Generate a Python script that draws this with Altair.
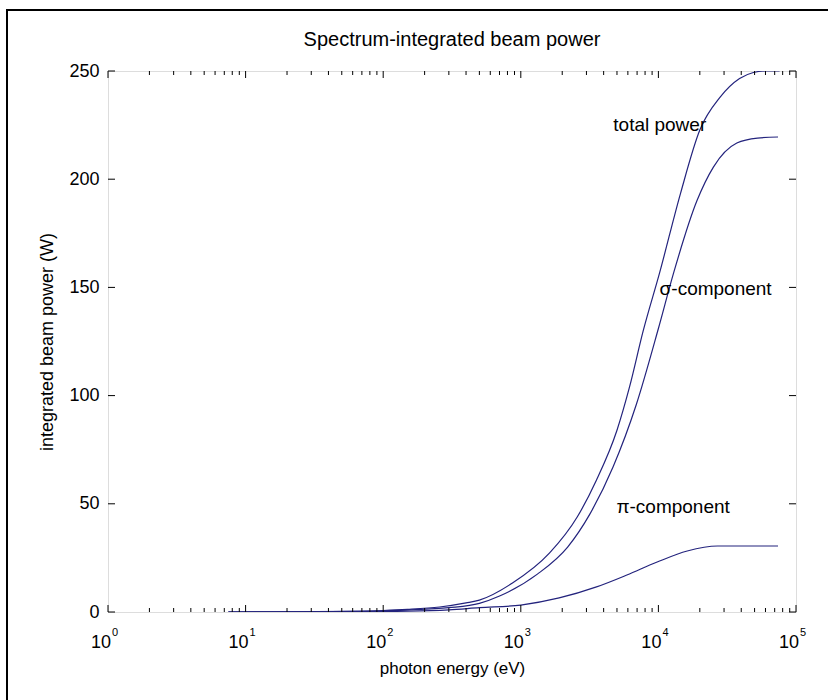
import altair as alt
import pandas as pd

# ---- data ----
total_E = [7.5, 15, 30, 60, 100, 150, 257, 400, 500, 870, 1620, 2570, 3550, 5000, 6170, 7760,
           10200, 14500, 20000, 28200, 38900, 49000, 60000, 76000]
total_P = [0.0, 0.05, 0.15, 0.35, 0.7, 1.2, 2.3, 4.2, 5.5, 13.4, 27.3, 43.9, 61.0, 84.0, 104.0, 130.0,
           156.7, 193.6, 222.7, 238.0, 246.5, 249.3, 250.0, 250.0]

sigma_E = [7.5, 15, 30, 60, 100, 150, 300, 500, 708, 1320, 2190, 3160, 4680, 6920, 10000, 12900,
           19050, 25100, 37150, 52500, 74000]
sigma_P = [0.0, 0.04, 0.12, 0.28, 0.5, 0.9, 2.0, 4.0, 7.5, 17.5, 30.0, 45.0, 67.0, 96.0, 131.0, 156.7,
           190.0, 205.6, 216.7, 219.0, 219.5]

pi_E = [7.5, 15, 30, 60, 100, 150, 300, 500, 1000, 1900, 3550, 5900, 9800, 16200, 26900, 74000]
pi_P = [0.0, 0.01, 0.03, 0.08, 0.2, 0.35, 1.0, 2.0, 3.2, 6.5, 11.6, 17.1, 23.1, 28.2, 30.5, 30.5]

labels_text = ["total power", "σ-component", "π-component"]
labels_E = [4700, 10200, 4950]
labels_P = [225, 149.3, 48.5]

title_text = "Spectrum-integrated beam power"

x_major = [1, 10, 100, 1000, 10000, 100000]
x_exp = ["0", "1", "2", "3", "4", "5"]
x_minor = [m * 10 ** k for k in range(5) for m in range(2, 10)]
y_major = [0, 50, 100, 150, 200, 250]

# ---- tables ----
rows = []
for name, E, P in [("total", total_E, total_P), ("sigma", sigma_E, sigma_P), ("pi", pi_E, pi_P)]:
    for e, p in zip(E, P):
        rows.append({"series": name, "E": e, "P": p})
curves = pd.DataFrame(rows)
ann = pd.DataFrame({"label": labels_text, "E": labels_E, "P": labels_P})
xmaj = pd.DataFrame({"E": x_major, "exp": x_exp})
xmin = pd.DataFrame({"E": x_minor})
ymaj = pd.DataFrame({"P": y_major})
one = pd.DataFrame({"t": [title_text]})

W, H = 688, 541
FONT = "Liberation Sans"
LINE = "#23237d"

xscale = alt.Scale(type="log", domain=[1, 100000], nice=False)
yscale = alt.Scale(domain=[0, 250], nice=False)

lines = alt.Chart(curves).mark_line(color=LINE, strokeWidth=1.2, clip=True,
                                    interpolate="monotone").encode(
    x=alt.X("E:Q", scale=xscale,
            axis=alt.Axis(title="photon energy (eV)", labels=False, ticks=False, domain=False,
                          grid=False, titlePadding=48, titleFont=FONT, titleFontSize=17,
                          titleFontWeight="normal", titleColor="black")),
    y=alt.Y("P:Q", scale=yscale,
            axis=alt.Axis(title="integrated beam power (W)", values=y_major, ticks=False, domain=False,
                          grid=False, labelPadding=9, labelFont=FONT, labelFontSize=18,
                          labelColor="black", titlePadding=12, titleFont=FONT, titleFontSize=18,
                          titleFontWeight="normal", titleColor="black")),
    detail="series:N",
)

text = alt.Chart(ann).mark_text(align="left", baseline="middle", font=FONT, fontSize=19,
                                color="black").encode(
    x=alt.X("E:Q", scale=xscale), y=alt.Y("P:Q", scale=yscale), text="label:N")

title = alt.Chart(one).mark_text(align="center", baseline="middle", font=FONT, fontSize=20,
                                 color="black").encode(
    x=alt.value(W / 2), y=alt.value(-31), text="t:N")

tick_b = alt.Chart(xmaj).mark_rule(color="black").encode(
    x=alt.X("E:Q", scale=xscale), y=alt.value(H), y2=alt.value(H - 7))
tick_t = alt.Chart(xmaj).mark_rule(color="black").encode(
    x=alt.X("E:Q", scale=xscale), y=alt.value(0), y2=alt.value(7))
mtick_b = alt.Chart(xmin).mark_rule(color="black").encode(
    x=alt.X("E:Q", scale=xscale), y=alt.value(H), y2=alt.value(H - 4))
mtick_t = alt.Chart(xmin).mark_rule(color="black").encode(
    x=alt.X("E:Q", scale=xscale), y=alt.value(0), y2=alt.value(4))
ytick_l = alt.Chart(ymaj).mark_rule(color="black").encode(
    y=alt.Y("P:Q", scale=yscale), x=alt.value(0), x2=alt.value(7))
ytick_r = alt.Chart(ymaj).mark_rule(color="black").encode(
    y=alt.Y("P:Q", scale=yscale), x=alt.value(W), x2=alt.value(W - 7))

base_lbl = alt.Chart(xmaj).mark_text(align="right", baseline="alphabetic", font=FONT, fontSize=18,
                                     color="black", dx=3).encode(
    x=alt.X("E:Q", scale=xscale), y=alt.value(H + 36), text=alt.value("10"))
exp_lbl = alt.Chart(xmaj).mark_text(align="left", baseline="alphabetic", font=FONT, fontSize=11,
                                    color="black", dx=4).encode(
    x=alt.X("E:Q", scale=xscale), y=alt.value(H + 24), text="exp:N")

frame = alt.Chart(pd.DataFrame({"a": [0]})).mark_rect(filled=False, stroke="black", strokeWidth=2,
                                                       clip=False).encode(
    x=alt.value(7 - 108), x2=alt.value(760), y=alt.value(10 - 71), y2=alt.value(660))

chart = alt.layer(
    frame, lines, text, title, tick_b, tick_t, mtick_b, mtick_t, ytick_l, ytick_r, base_lbl, exp_lbl
).properties(
    width=W, height=H,
    autosize=alt.AutoSizeParams(type="none"),
    padding={"left": 108, "top": 71, "right": 32, "bottom": 88},
).configure_view(stroke="black", strokeWidth=1).configure(background="white")

chart.save("out.html", embed_options={"renderer": "svg", "actions": False})
